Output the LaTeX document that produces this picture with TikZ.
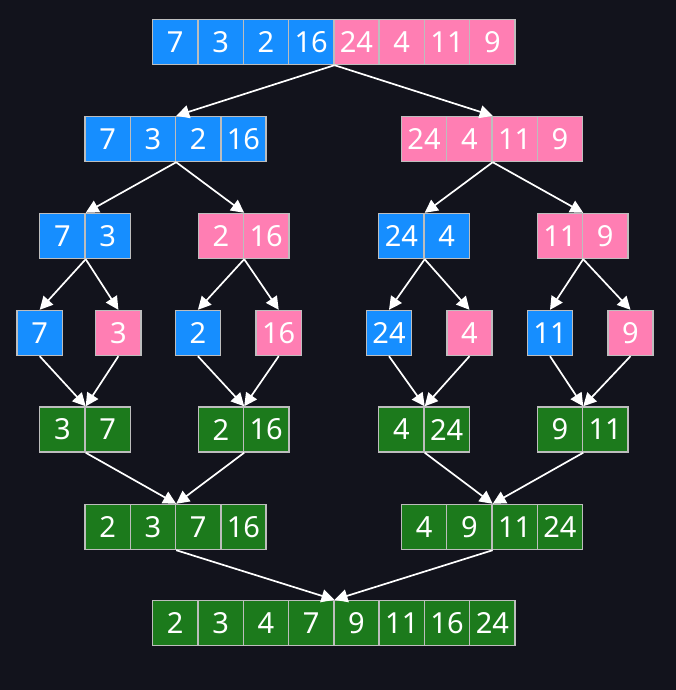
\documentclass[tikz,border=0pt]{standalone}
\usepackage{fontspec}
\setmainfont{Noto Sans}
\usetikzlibrary{arrows.meta}

\definecolor{bg}{HTML}{12131C}
\definecolor{cblue}{HTML}{168EFF}
\definecolor{cpink}{HTML}{FF7EB3}
\definecolor{cgreen}{HTML}{1C7A1C}
\definecolor{cedge}{HTML}{BDBDBD}

\tikzset{
  cell/.style={draw=cedge, line width=1.4pt, minimum width=45.3pt, minimum height=45pt,
    inner sep=0pt, text=white, font=\fontsize{29}{29}\selectfont},
  link/.style={white, line width=1.7pt, -{Triangle[width=13pt,length=13pt]}}
}

% a row of cells: name, left x, centre y, colour/value list
\newcommand{\cellrow}[4]{%
  \foreach \c/\v [count=\i] in {#4} {
    \node[cell, fill=\c] (#1\i) at ({#2+(\i-0.5)*45.3}, #3) {\v};
  }
}

\begin{document}
\begin{tikzpicture}[x=1pt, y=-1pt]
    \fill[bg] (0,0) rectangle (676,690);
    \useasboundingbox (0,0) rectangle (676,690);

    % split
    \cellrow{src}{152.6}{42}{cblue/7,cblue/3,cblue/2,cblue/16,cpink/24,cpink/4,cpink/11,cpink/9}
    \cellrow{ha}{84.9}{139}{cblue/7,cblue/3,cblue/2,cblue/16}
    \cellrow{hb}{401.4}{139}{cpink/24,cpink/4,cpink/11,cpink/9}
    \cellrow{qa}{39.7}{236}{cblue/7,cblue/3}
    \cellrow{qb}{198.2}{236}{cpink/2,cpink/16}
    \cellrow{qc}{378.7}{236}{cblue/24,cblue/4}
    \cellrow{qd}{537.2}{236}{cpink/11,cpink/9}
    \foreach \x/\c/\v [count=\i] in {39.7/cblue/7, 118.4/cpink/3, 197.9/cblue/2, 278.7/cpink/16,
        389/cblue/24, 469.5/cpink/4, 550/cblue/11, 630.5/cpink/9}
      \node[cell, fill=\c] (s\i) at (\x,333) {\v};

    % merge
    \cellrow{ma}{39.7}{429.5}{cgreen/3,cgreen/7}
    \cellrow{mb}{198.2}{429.5}{cgreen/2,cgreen/16}
    \cellrow{mc}{378.7}{429.5}{cgreen/4,cgreen/24}
    \cellrow{md}{537.2}{429.5}{cgreen/9,cgreen/11}
    \cellrow{na}{84.9}{527}{cgreen/2,cgreen/3,cgreen/7,cgreen/16}
    \cellrow{nb}{401.4}{527}{cgreen/4,cgreen/9,cgreen/11,cgreen/24}
    \cellrow{out}{152.6}{623}{cgreen/2,cgreen/3,cgreen/4,cgreen/7,cgreen/9,cgreen/11,cgreen/16,cgreen/24}

    % arrows down the split
    \draw[link] (src4.south east) -- (ha2.north east);
    \draw[link] (src4.south east) -- (hb2.north east);
    \draw[link] (ha2.south east) -- (qa1.north east);
    \draw[link] (ha2.south east) -- (qb1.north east);
    \draw[link] (hb2.south east) -- (qc1.north east);
    \draw[link] (hb2.south east) -- (qd1.north east);
    \foreach \q/\l/\r in {qa/1/2, qb/3/4, qc/5/6, qd/7/8} {
      \draw[link] (\q1.south east) -- (s\l.north);
      \draw[link] (\q1.south east) -- (s\r.north);
    }
    % arrows back up into the merge
    \foreach \m/\l/\r in {ma/1/2, mb/3/4, mc/5/6, md/7/8} {
      \draw[link] (s\l.south) -- (\m1.north east);
      \draw[link] (s\r.south) -- (\m1.north east);
    }
    \draw[link] (ma1.south east) -- (na2.north east);
    \draw[link] (mb1.south east) -- (na2.north east);
    \draw[link] (mc1.south east) -- (nb2.north east);
    \draw[link] (md1.south east) -- (nb2.north east);
    \draw[link] (na2.south east) -- (out4.north east);
    \draw[link] (nb2.south east) -- (out4.north east);
\end{tikzpicture}
\end{document}
